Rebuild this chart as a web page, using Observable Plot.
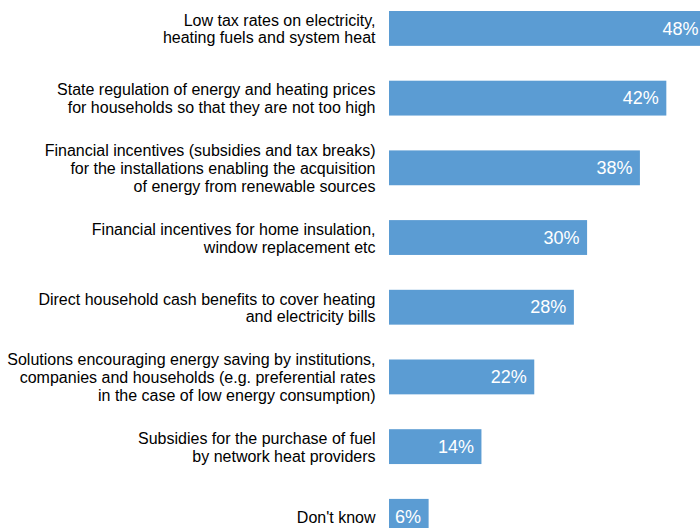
<!DOCTYPE html>
<html>
<head>
<meta charset="utf-8">
<script src="https://cdn.jsdelivr.net/npm/d3@7"></script>
<script src="https://cdn.jsdelivr.net/npm/@observablehq/plot@0.6"></script>
<style>
  html, body { margin: 0; padding: 0; background: #fff; overflow: hidden; }
</style>
</head>
<body>
<div id="chart"></div>
<script>
const categories = [
  "Low tax rates on electricity,\nheating fuels and system heat",
  "State regulation of energy and heating prices\nfor households so that they are not too high",
  "Financial incentives (subsidies and tax breaks)\nfor the installations enabling the acquisition\nof energy from renewable sources",
  "Financial incentives for home insulation,\nwindow replacement etc",
  "Direct household cash benefits to cover heating\nand electricity bills",
  "Solutions encouraging energy saving by institutions,\ncompanies and households (e.g. preferential rates\nin the case of low energy consumption)",
  "Subsidies for the purchase of fuel\nby network heat providers",
  "Don't know"
];
const values = [48, 42, 38, 30, 28, 22, 14, 6];

const data = categories.map((c, i) => ({category: c, value: values[i]}));

const chart = Plot.plot({
  width: 700,
  height: 528,
  marginLeft: 389,
  marginRight: 0,
  marginTop: 0,
  marginBottom: 0,
  x: {domain: [0, 47.1], axis: null},
  y: {domain: categories, range: [11, 533.75], paddingInner: 0.5, paddingOuter: 0, round: false, axis: null},
  style: {fontFamily: "'Liberation Sans', Arial, sans-serif", background: "white", overflow: "hidden"},
  marks: [
    Plot.barX(data, {x: "value", y: "category", fill: "#5B9CD3", clip: true}),
    Plot.text(data, {x: "value", y: "category", text: d => d.value + "%", textAnchor: "end", dx: -8, fill: "white", fontSize: 18}),
    Plot.text(data, {x: 0, y: "category", text: "category", textAnchor: "end", dx: -14, fontSize: 16, lineHeight: 1.11, fill: "#000"})
  ]
});
document.getElementById("chart").appendChild(chart);
</script>
</body>
</html>
